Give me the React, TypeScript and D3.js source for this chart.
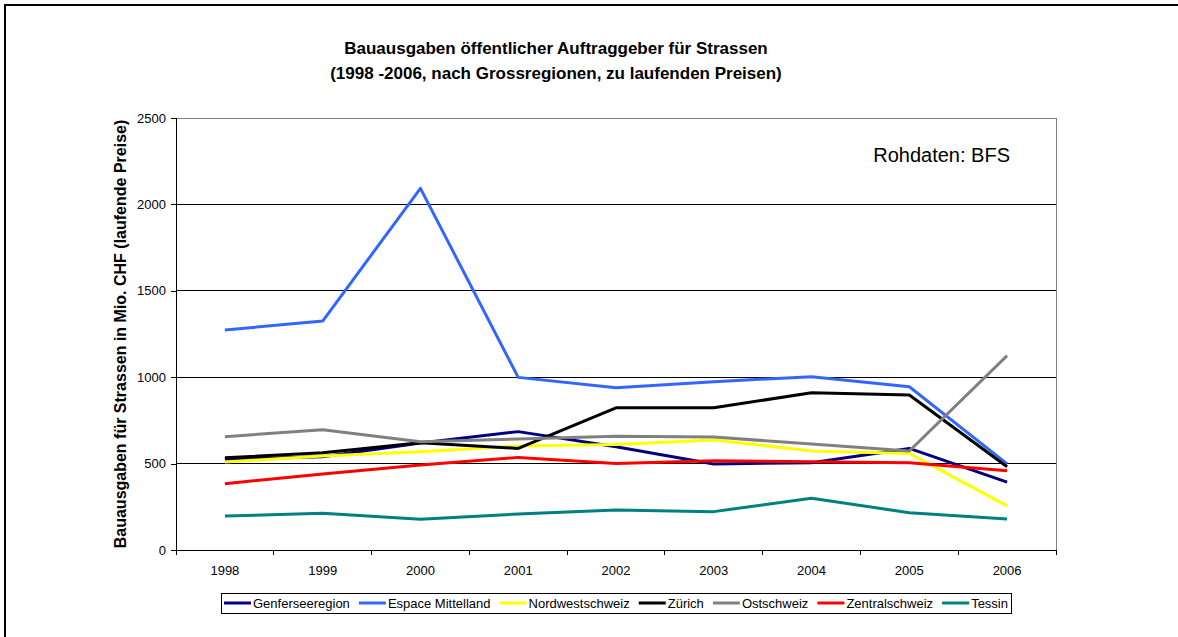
import React, { useRef, useEffect } from 'react';
import * as d3 from 'd3';

const years = ['1998', '1999', '2000', '2001', '2002', '2003', '2004', '2005', '2006'];
const yTicks = [0, 500, 1000, 1500, 2000, 2500];

const genferseeregion = [525, 540, 619, 685, 598, 498, 505, 588, 393];
const espaceMittelland = [1273, 1325, 2093, 999, 939, 974, 1003, 945, 498];
const nordwestschweiz = [509, 544, 569, 602, 611, 637, 573, 559, 255];
const zuerich = [534, 563, 621, 588, 823, 823, 910, 897, 482];
const ostschweiz = [656, 696, 627, 642, 658, 654, 613, 573, 1125];
const zentralschweiz = [384, 440, 492, 536, 501, 517, 511, 505, 459];
const tessin = [197, 212, 178, 208, 231, 222, 299, 216, 179];

const seriesNames = ['Genferseeregion', 'Espace Mittelland', 'Nordwestschweiz', 'Zürich', 'Ostschweiz', 'Zentralschweiz', 'Tessin'];
const seriesValues = [genferseeregion, espaceMittelland, nordwestschweiz, zuerich, ostschweiz, zentralschweiz, tessin];
const seriesColors = ['#000080', '#3366FF', '#FFFF00', '#000000', '#808080', '#FF0000', '#008080'];

const App = () => {
    const svgRef = useRef<SVGSVGElement>(null);

    useEffect(() => {
        const svg = d3.select(svgRef.current);
        svg.selectAll('*').remove();
        const font = 'Arial, "Liberation Sans", sans-serif';

        // outer frame
        svg.append('rect')
            .attr('x', 5).attr('y', 5)
            .attr('width', 1300).attr('height', 800)
            .attr('fill', 'white')
            .attr('stroke', '#000').attr('stroke-width', 2);

        const left = 176, right = 1056, top = 118, bottom = 550;

        const x = d3.scaleBand().domain(years).range([left, right]);
        const y = d3.scaleLinear().domain([0, 2500]).range([bottom, top]);

        // title
        const title = svg.append('text')
            .attr('text-anchor', 'middle')
            .style('font-family', font)
            .style('font-weight', 'bold')
            .style('font-size', '17px');
        title.append('tspan').attr('x', 556).attr('y', 54).text('Bauausgaben öffentlicher Auftraggeber für Strassen');
        title.append('tspan').attr('x', 556).attr('y', 79).text('(1998 -2006, nach Grossregionen, zu laufenden Preisen)');

        // grid lines
        svg.append('g')
            .selectAll('line')
            .data(yTicks.filter((t) => t > 0 && t < 2500))
            .enter()
            .append('line')
            .attr('x1', left).attr('x2', right)
            .attr('y1', (d) => y(d)).attr('y2', (d) => y(d))
            .attr('stroke', '#000').attr('stroke-width', 1)
            .attr('shape-rendering', 'crispEdges');

        // plot border top/right
        svg.append('path')
            .attr('d', `M${left},${top}H${right}V${bottom}`)
            .attr('fill', 'none')
            .attr('stroke', '#808080')
            .attr('shape-rendering', 'crispEdges');

        // y axis
        const yAxis = d3.axisLeft(y).tickValues(yTicks).tickSize(5).tickPadding(5).tickFormat(d3.format('d'));
        const gy = svg.append('g').attr('transform', `translate(${left},0)`).call(yAxis);
        gy.selectAll('text').style('font-family', font).style('font-size', '13px').attr('fill', '#000');
        gy.selectAll('line, path').attr('stroke', '#000').attr('shape-rendering', 'crispEdges');

        // x axis: ticks between categories
        const gx = svg.append('g').attr('transform', `translate(0,${bottom})`);
        gx.append('line').attr('x1', left).attr('x2', right).attr('stroke', '#000').attr('shape-rendering', 'crispEdges');
        const boundaries = years.map((d) => x(d) as number).concat([right]);
        gx.selectAll('.tk')
            .data(boundaries)
            .enter()
            .append('line')
            .attr('x1', (d) => d).attr('x2', (d) => d)
            .attr('y1', 0).attr('y2', 5)
            .attr('stroke', '#000').attr('shape-rendering', 'crispEdges');
        gx.selectAll('.lbl')
            .data(years)
            .enter()
            .append('text')
            .attr('x', (d) => (x(d) as number) + x.bandwidth() / 2)
            .attr('y', 24.5)
            .attr('text-anchor', 'middle')
            .style('font-family', font)
            .style('font-size', '13px')
            .text((d) => d);

        // y axis title
        svg.append('text')
            .attr('transform', `translate(126,${(top + bottom) / 2}) rotate(-90)`)
            .attr('text-anchor', 'middle')
            .style('font-family', font)
            .style('font-weight', 'bold')
            .style('font-size', '16px')
            .text('Bauausgaben für Strassen in Mio. CHF (laufende Preise)');

        // note
        svg.append('text')
            .attr('x', 1010).attr('y', 162)
            .attr('text-anchor', 'end')
            .style('font-family', font)
            .style('font-size', '20px')
            .text('Rohdaten: BFS');

        // lines
        const line = d3.line<number>()
            .x((d, i) => (x(years[i]) as number) + x.bandwidth() / 2)
            .y((d) => y(d));
        svg.append('g')
            .selectAll('path')
            .data(seriesValues)
            .enter()
            .append('path')
            .attr('d', (d) => line(d))
            .attr('fill', 'none')
            .attr('stroke', (d, i) => seriesColors[i])
            .attr('stroke-width', 3)
            .attr('stroke-linejoin', 'round');

        // legend
        const lx = 221, ly = 593, lh = 20, lw = 790;
        svg.append('rect')
            .attr('x', lx).attr('y', ly).attr('width', lw).attr('height', lh)
            .attr('fill', 'white').attr('stroke', '#000')
            .attr('shape-rendering', 'crispEdges');
        const items = svg.append('g');
        const texts: SVGTextElement[] = [];
        seriesNames.forEach((name) => {
            const t = items.append('text')
                .attr('y', ly + 15)
                .style('font-family', font)
                .style('font-size', '13px')
                .text(name);
            texts.push(t.node() as SVGTextElement);
        });
        const sw = 27, gapAfterSwatch = 2;
        const widths = texts.map((t) => t.getComputedTextLength());
        const used = widths.reduce((a, b) => a + b, 0) + seriesNames.length * (sw + gapAfterSwatch);
        const gap = (lw - 6 - used) / (seriesNames.length - 1);
        let cx = lx + 3;
        seriesNames.forEach((name, i) => {
            items.append('line')
                .attr('x1', cx).attr('x2', cx + sw)
                .attr('y1', ly + lh / 2).attr('y2', ly + lh / 2)
                .attr('stroke', seriesColors[i]).attr('stroke-width', 3);
            d3.select(texts[i]).attr('x', cx + sw + gapAfterSwatch);
            cx += sw + gapAfterSwatch + widths[i] + gap;
        });
    }, []);

    return (
        <div>
            <svg ref={svgRef} width={1178} height={637} style={{ position: 'absolute', left: 0, top: 0 }}></svg>
        </div>
    );
}

export default App;
